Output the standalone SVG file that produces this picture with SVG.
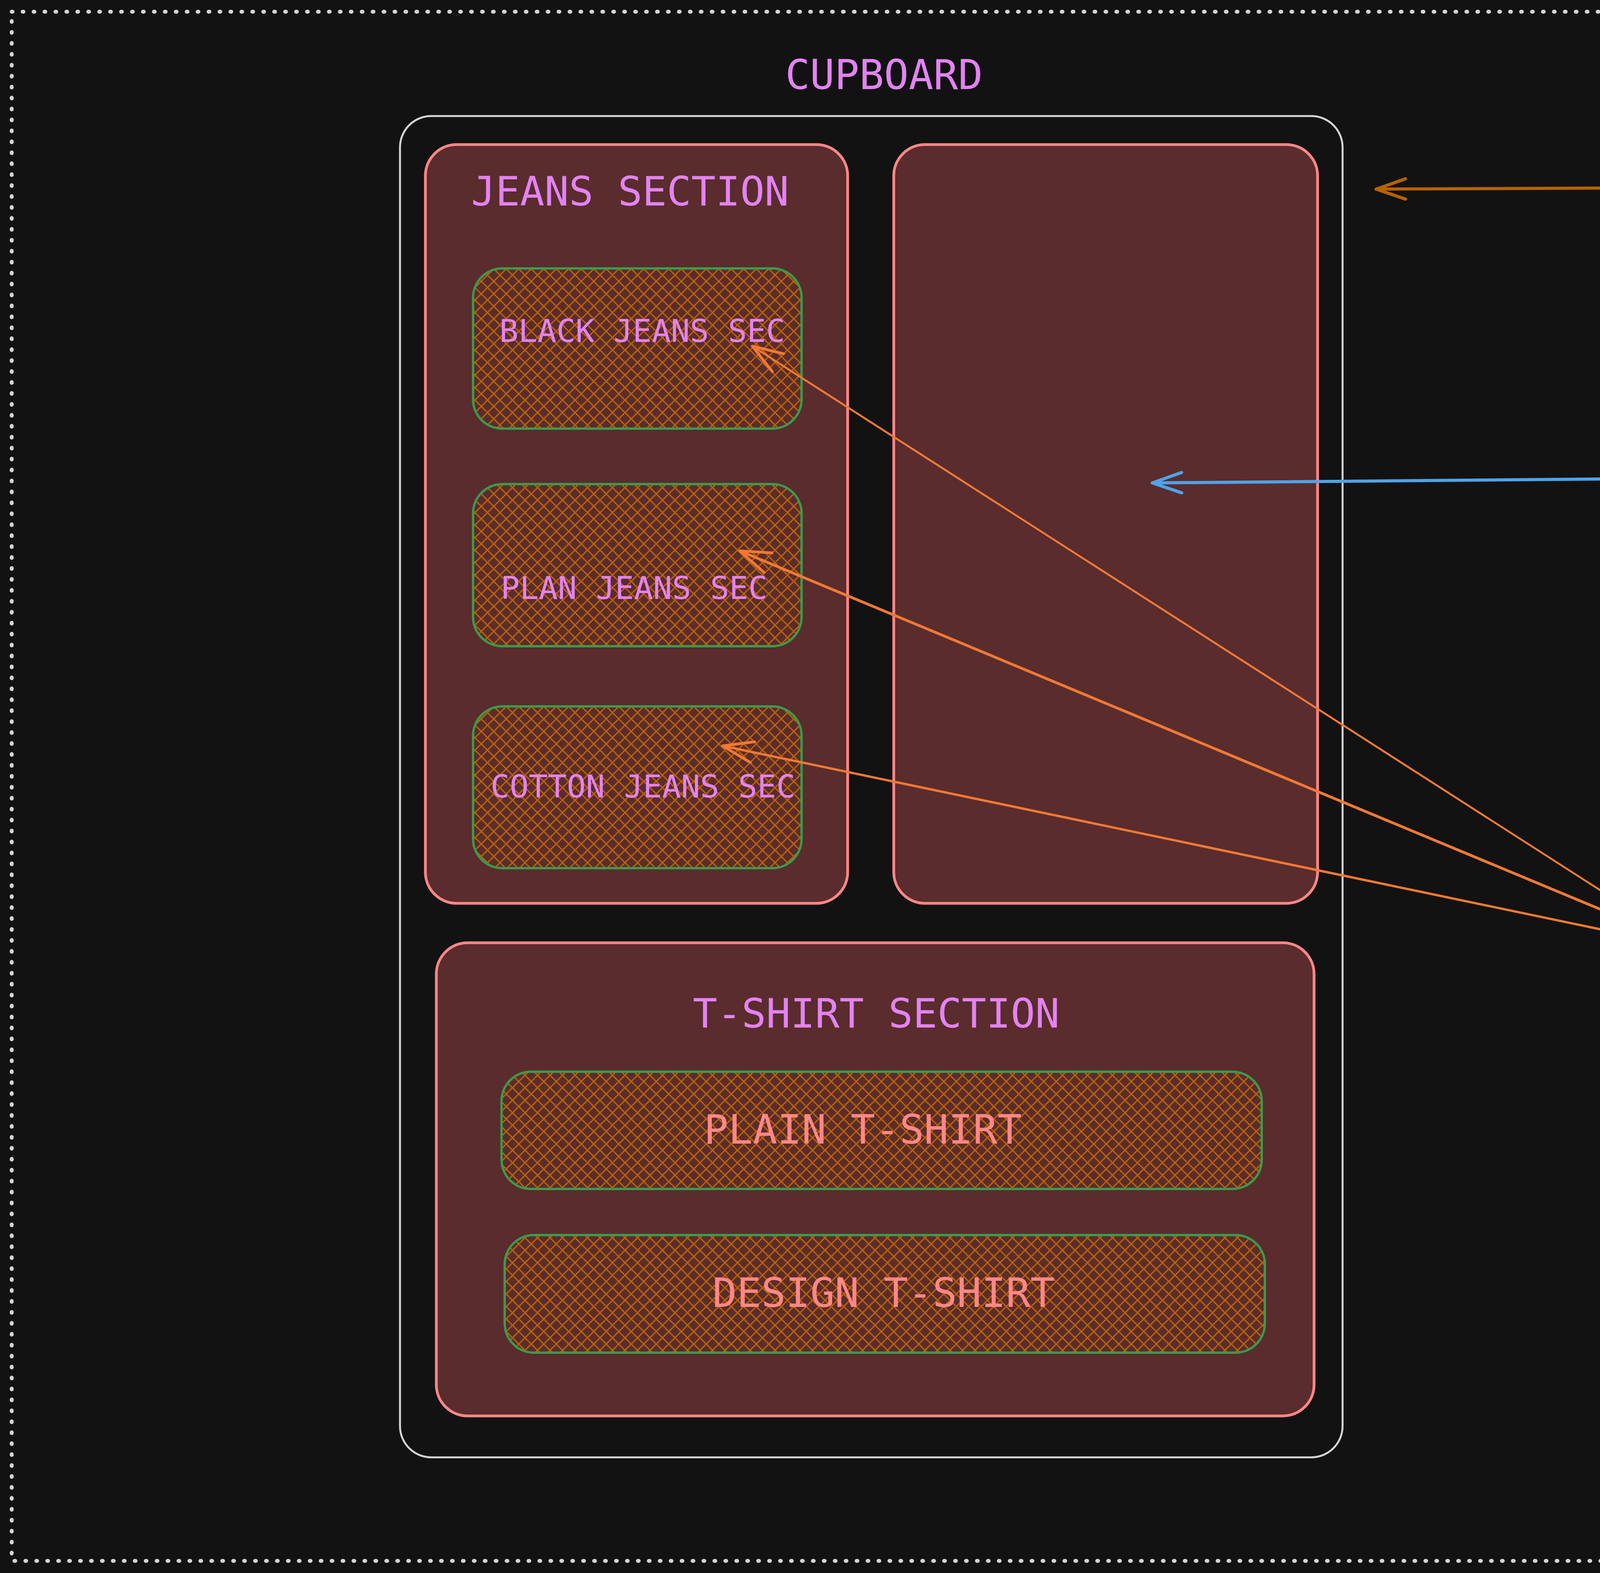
<svg xmlns="http://www.w3.org/2000/svg" width="6372" height="4026" viewBox="0 0 6372 4026">
<defs>
<style>
.t{font-family:"DejaVu Sans Mono","Liberation Mono",monospace;}
.lbl{fill:#e283f2;text-anchor:middle;}
.sal{fill:#ff8787;text-anchor:middle;}
.note{fill:#f27935;font-size:81px;}
.sec{fill:#5a2c2d;stroke:#ff8787;stroke-width:7;}
.sub{fill:url(#cross);stroke:#3a9a4c;stroke-width:6;}
.key{fill:url(#hatch);stroke:#ff8787;stroke-width:6;}
.conn{fill:none;stroke-linecap:round;}
</style>
<pattern id="cross" patternUnits="userSpaceOnUse" width="32" height="32">
<path d="M0,32 L32,0 M-8,8 L8,-8 M24,40 L40,24 M0,0 L32,32 M-8,24 L8,40 M24,-8 L40,8" stroke="#b86200" stroke-width="3.5"/>
</pattern>
<pattern id="hatch" patternUnits="userSpaceOnUse" width="34" height="34">
<path d="M0,34 L34,0 M-8,8 L8,-8 M26,42 L42,26" stroke="#5e2f2e" stroke-width="3.5"/>
</pattern>
<marker id="aOr" markerUnits="userSpaceOnUse" viewBox="-90 -40 100 80" markerWidth="100" markerHeight="80" refX="0" refY="0" orient="auto" overflow="visible">
<path d="M-78,-27 L0,0 L-78,27" fill="none" stroke="#f07935" stroke-width="7" stroke-linecap="round" stroke-linejoin="round"/>
</marker>
<marker id="aDk" markerUnits="userSpaceOnUse" viewBox="-90 -40 100 80" markerWidth="100" markerHeight="80" refX="0" refY="0" orient="auto" overflow="visible">
<path d="M-75,-26 L0,0 L-75,26" fill="none" stroke="#b86200" stroke-width="8" stroke-linecap="round" stroke-linejoin="round"/>
</marker>
<marker id="aBl" markerUnits="userSpaceOnUse" viewBox="-90 -40 100 80" markerWidth="100" markerHeight="80" refX="0" refY="0" orient="auto" overflow="visible">
<path d="M-75,-26 L0,0 L-75,26" fill="none" stroke="#4fa3e8" stroke-width="8" stroke-linecap="round" stroke-linejoin="round"/>
</marker>
</defs>
<rect x="0" y="0" width="6372" height="4026" fill="#121212"/>
<rect x="30" y="30" width="6310" height="3965" fill="none" stroke="#d4d4d4" stroke-width="10" stroke-linecap="round" stroke-dasharray="2 26"/>

<g id="cupboard">
<rect x="1024" y="297" width="2413" height="3433" rx="80" fill="none" stroke="#d4d4d4" stroke-width="5"/>
<text class="t lbl" x="2263" y="228" font-size="105">CUPBOARD</text>
</g>

<g id="jeans-section">
<rect class="sec" x="1089" y="370" width="1081" height="1942" rx="80"/>
<text class="t lbl" x="1613" y="526" font-size="104">JEANS SECTION</text>
</g>

<g id="empty-section">
<rect class="sec" x="2288" y="370" width="1085" height="1942" rx="80"/>
</g>

<g id="black-jeans">
<rect class="sub" x="1211" y="687" width="841" height="410" rx="75"/>
<text class="t lbl" x="1644" y="875" font-size="81">BLACK JEANS SEC</text>
</g>

<g id="plan-jeans">
<rect class="sub" x="1211" y="1239" width="841" height="415" rx="75"/>
<text class="t lbl" x="1623" y="1533" font-size="81">PLAN JEANS SEC</text>
</g>

<g id="cotton-jeans">
<rect class="sub" x="1211" y="1808" width="841" height="414" rx="75"/>
<text class="t lbl" x="1646" y="2041" font-size="81">COTTON JEANS SEC</text>
</g>

<g id="tshirt-section">
<rect class="sec" x="1117" y="2413" width="2247" height="1211" rx="80"/>
<text class="t lbl" x="2243" y="2630" font-size="104">T-SHIRT SECTION</text>
</g>

<g id="plain-tshirt">
<rect class="sub" x="1284" y="2743" width="1946" height="300" rx="75"/>
<text class="t sal" x="2209" y="2927" font-size="104">PLAIN T-SHIRT</text>
</g>

<g id="design-tshirt">
<rect class="sub" x="1292" y="3161" width="1946" height="301" rx="75"/>
<text class="t sal" x="2262" y="3345" font-size="104">DESIGN T-SHIRT</text>
</g>

<g id="package">
<rect class="key" x="4445" y="345" width="679" height="269" rx="60"/>
<text class="t sal" x="4787" y="518" font-size="104">PACKAGE</text>
</g>

<g id="crate">
<rect class="key" x="4453" y="1093" width="675" height="268" rx="60"/>
<text class="t sal" x="4790" y="1265" font-size="104">CRATE</text>
</g>

<g id="module">
<rect class="key" x="4291" y="2287" width="674" height="265" rx="60"/>
<text class="t sal" x="4628" y="2459" font-size="104">MODULE</text>
</g>

<g id="notes">
<text class="t note" x="5350" y="514">This is CUPBOARD</text>
<text class="t note" x="5333" y="1258">This is SECTION in</text>
<text class="t note" x="5333" y="1358">Cupboard</text>
<text class="t note" x="5146" y="2422">To Organise Section</text>
<text class="t note" x="5146" y="2523">again section is divided</text>
<text class="t note" x="5146" y="2624">into some section</text>
</g>

<g id="connectors">
<path class="conn" d="M4372,480 L3523,484" stroke="#b86200" stroke-width="8" marker-end="url(#aDk)"/>
<path class="conn" d="M4429,1223 L2950,1236" stroke="#4fa3e8" stroke-width="8" marker-end="url(#aBl)"/>
<path class="conn" d="M4286,2400 L1926,886" stroke="#f07935" stroke-width="5" marker-end="url(#aOr)"/>
<path class="conn" d="M4286,2406 L1894,1410" stroke="#f07935" stroke-width="7" marker-end="url(#aOr)"/>
<path class="conn" d="M4286,2418 L1850,1909" stroke="#f07935" stroke-width="6" marker-end="url(#aOr)"/>
</g>
</svg>
